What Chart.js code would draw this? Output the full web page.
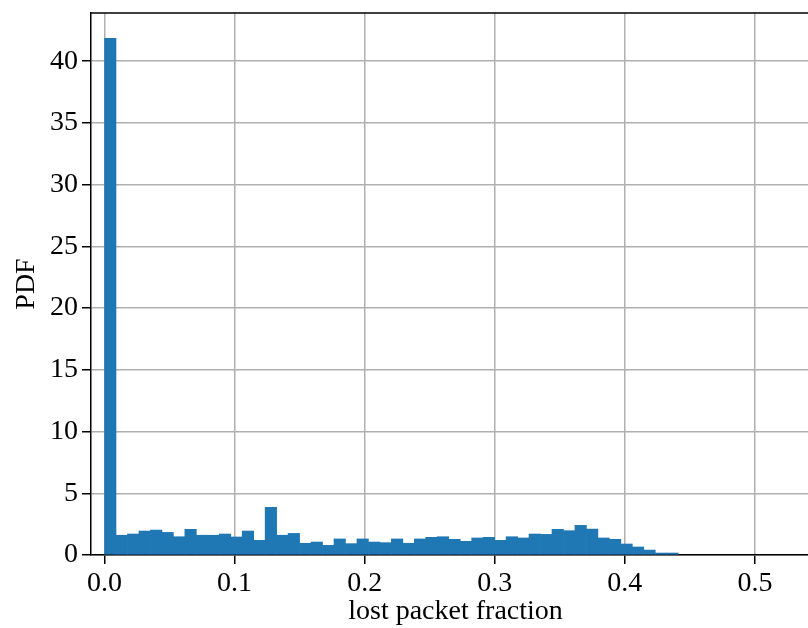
<!DOCTYPE html>
<html>
<head>
<meta charset="utf-8">
<script src="https://cdn.jsdelivr.net/npm/chart.js@4/dist/chart.umd.min.js"></script>
<style>
  html, body { margin: 0; padding: 0; background: #fff; overflow: hidden; }
  #wrap { width: 820px; height: 628px; }
</style>
</head>
<body>
<div id="wrap"><canvas id="histChart"></canvas></div>
<script>
    // histogram of lost packet fraction: 50 equal bins from 0 to 0.441
    const binStart = 0;
    const binWidth = 0.00882;
    const pdfValues = [
        41.84, 1.60, 1.70, 1.94, 2.02, 1.83, 1.48, 2.08, 1.60, 1.60,
        1.70, 1.46, 1.94, 1.19, 3.86, 1.60, 1.75, 0.95, 1.05, 0.78,
        1.30, 0.92, 1.30, 1.05, 1.00, 1.30, 0.95, 1.30, 1.43, 1.48,
        1.27, 1.11, 1.38, 1.43, 1.19, 1.48, 1.38, 1.70, 1.67, 2.08,
        1.97, 2.40, 2.10, 1.38, 1.27, 0.89, 0.65, 0.40, 0.16, 0.16
    ];
    const xTicks = [0.0, 0.1, 0.2, 0.3, 0.4, 0.5];
    const yTicks = [0, 5, 10, 15, 20, 25, 30, 35, 40];

    const points = pdfValues.map((v, i) => ({ x: binStart + (i + 0.5) * binWidth, y: v }));

    const serif = "'Liberation Serif', 'DejaVu Serif', serif";

    // top spine like matplotlib
    const topSpine = {
        id: 'topSpine',
        afterDraw(chart) {
            const { ctx, chartArea } = chart;
            ctx.save();
            ctx.strokeStyle = '#000';
            ctx.lineWidth = 1.5;
            ctx.beginPath();
            ctx.moveTo(chartArea.left, chartArea.top);
            ctx.lineTo(chartArea.right + 2, chartArea.top);
            ctx.stroke();
            ctx.restore();
        }
    };

    const ctx1 = document.getElementById('histChart').getContext('2d');

    new Chart(ctx1, {
        type: 'bar',
        data: {
            datasets: [{
                label: 'PDF',
                data: points,
                backgroundColor: '#1f77b4',
                borderWidth: 0,
                barPercentage: 1.0,
                categoryPercentage: 1.0
            }]
        },
        plugins: [topSpine],
        options: {
            responsive: true,
            maintainAspectRatio: false,
            animation: false,
            layout: {
                padding: { top: 13, right: 0, left: 0, bottom: 0 }
            },
            plugins: {
                legend: { display: false },
                tooltip: { enabled: false }
            },
            scales: {
                x: {
                    type: 'linear',
                    min: -0.0104,
                    max: 0.55,
                    offset: false,
                    z: 1,
                    afterFit: (scale) => {
                        scale.height = 73;
                        scale.paddingLeft = 0;
                        scale.paddingRight = 0;
                    },
                    afterBuildTicks: (scale) => { scale.ticks = xTicks.map(v => ({ value: v })); },
                    ticks: {
                        color: '#000',
                        padding: 3,
                        maxRotation: 0,
                        font: { family: serif, size: 28 },
                        callback: (v) => Number(v).toFixed(1)
                    },
                    grid: {
                        offset: false,
                        color: '#b0b0b0',
                        lineWidth: 1.5,
                        tickColor: '#000',
                        tickLength: 9
                    },
                    border: { display: true, color: '#000', width: 1.5 },
                    title: {
                        display: true,
                        text: 'lost packet fraction',
                        color: '#000',
                        padding: { top: -5, bottom: 0 },
                        font: { family: serif, size: 28 }
                    }
                },
                y: {
                    min: 0,
                    max: 43.9,
                    z: 1,
                    afterFit: (scale) => {
                        scale.width = 91;
                        scale.paddingTop = 0;
                        scale.paddingBottom = 0;
                    },
                    afterBuildTicks: (scale) => { scale.ticks = yTicks.map(v => ({ value: v })); },
                    ticks: {
                        color: '#000',
                        padding: 4,
                        font: { family: serif, size: 28 },
                        callback: (v) => String(v)
                    },
                    grid: {
                        color: '#b0b0b0',
                        lineWidth: 1.5,
                        tickColor: '#000',
                        tickLength: 9
                    },
                    border: { display: true, color: '#000', width: 1.5 },
                    title: {
                        display: true,
                        text: 'PDF',
                        color: '#000',
                        padding: { top: 10, bottom: 0 },
                        font: { family: serif, size: 28 }
                    }
                }
            }
        }
    });
</script>
</body>
</html>
